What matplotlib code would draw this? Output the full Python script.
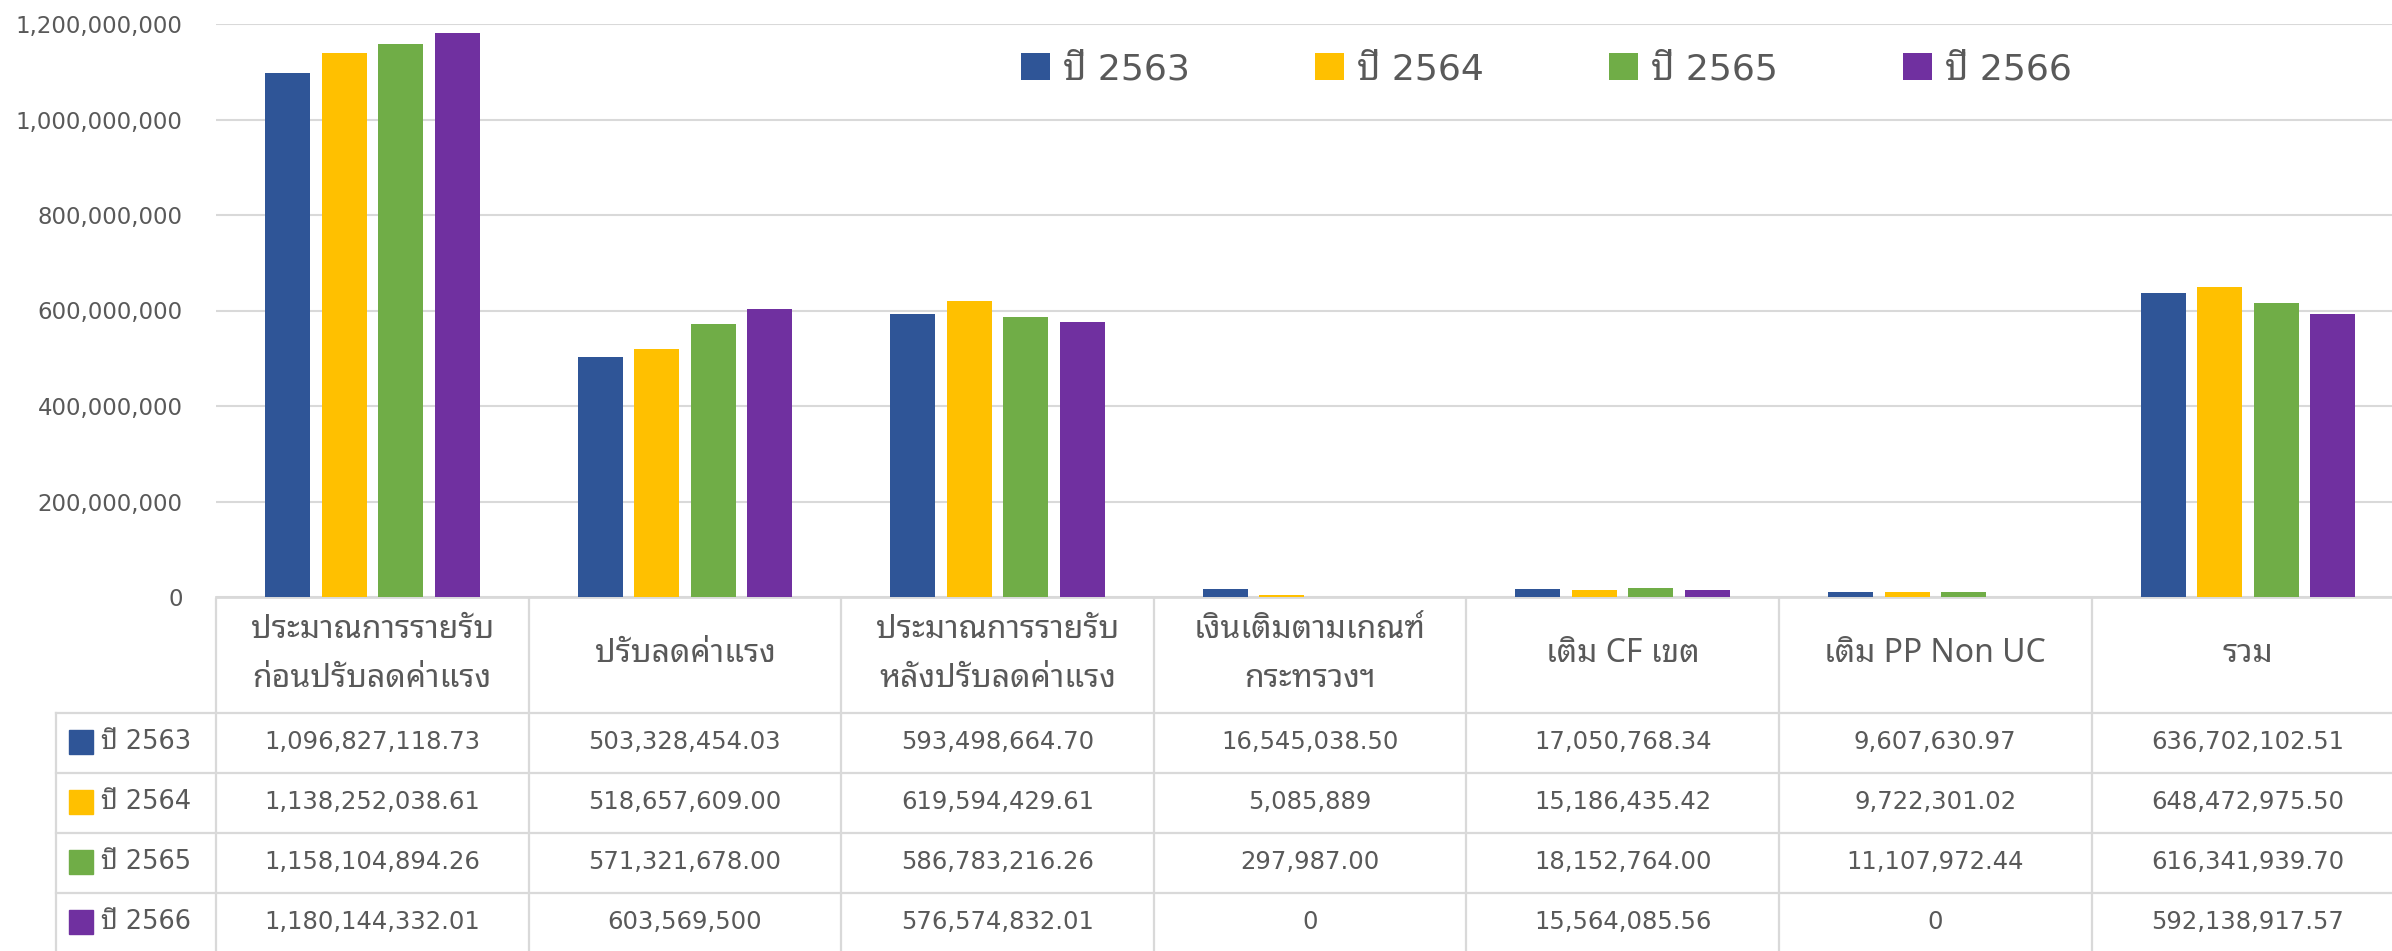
import matplotlib
matplotlib.use("Agg")
import matplotlib.pyplot as plt
from matplotlib.lines import Line2D
from matplotlib.patches import Rectangle
from matplotlib.ticker import FuncFormatter
import numpy as np

# ---------------- data ----------------
categories = [
    "ประมาณการรายรับ\nก่อนปรับลดค่าแรง",
    "ปรับลดค่าแรง",
    "ประมาณการรายรับ\nหลังปรับลดค่าแรง",
    "เงินเติมตามเกณฑ์\nกระทรวงฯ",
    "เติม CF เขต",
    "เติม PP Non UC",
    "รวม",
]
series_names = ["ปี 2563", "ปี 2564", "ปี 2565", "ปี 2566"]
values_2563 = [1096827118.73, 503328454.03, 593498664.70, 16545038.50, 17050768.34, 9607630.97, 636702102.51]
values_2564 = [1138252038.61, 518657609.00, 619594429.61, 5085889, 15186435.42, 9722301.02, 648472975.50]
values_2565 = [1158104894.26, 571321678.00, 586783216.26, 297987.00, 18152764.00, 11107972.44, 616341939.70]
values_2566 = [1180144332.01, 603569500, 576574832.01, 0, 15564085.56, 0, 592138917.57]
labels_2563 = ["1,096,827,118.73", "503,328,454.03", "593,498,664.70", "16,545,038.50", "17,050,768.34", "9,607,630.97", "636,702,102.51"]
labels_2564 = ["1,138,252,038.61", "518,657,609.00", "619,594,429.61", "5,085,889", "15,186,435.42", "9,722,301.02", "648,472,975.50"]
labels_2565 = ["1,158,104,894.26", "571,321,678.00", "586,783,216.26", "297,987.00", "18,152,764.00", "11,107,972.44", "616,341,939.70"]
labels_2566 = ["1,180,144,332.01", "603,569,500", "576,574,832.01", "0", "15,564,085.56", "0", "592,138,917.57"]
colors = ["#2F5597", "#FFC000", "#70AD47", "#7030A0"]

series_values = [values_2563, values_2564, values_2565, values_2566]
series_labels = [labels_2563, labels_2564, labels_2565, labels_2566]

# ---------------- layout ----------------
W, H = 2392, 951
TXT = "#595959"
GRID = "#D9D9D9"
NUMFONT = ["DejaVu Sans", "Noto Sans Thai Looped"]
THAIFONT = ["Noto Sans Thai Looped", "DejaVu Sans"]

def fx(px):
    return px / W

def fy(py):
    return 1 - py / H

fig = plt.figure(figsize=(W / 100, H / 100), dpi=100)
fig.patch.set_facecolor("white")

x_left, col_w = 216, 312.6
n = len(categories)
x_right = x_left + n * col_w
y_top, y_zero = 24, 597
ax = fig.add_axes([fx(x_left), fy(y_zero), fx(x_right) - fx(x_left), fy(y_top) - fy(y_zero)])

x = np.arange(n)
bw, step = 0.144, 0.181
for i, (vals, c, name) in enumerate(zip(series_values, colors, series_names)):
    ax.bar(x + (i - 1.5) * step, vals, width=bw, color=c, label=name, zorder=3)

ax.set_xlim(-0.5, n - 0.5)
ax.set_ylim(0, 1.2e9)
ax.set_yticks(np.arange(0, 1.2e9 + 1, 2e8))
ax.yaxis.set_major_formatter(FuncFormatter(lambda v, p: f"{v:,.0f}"))
ax.tick_params(axis="y", length=0, pad=24, labelsize=16.5, labelcolor=TXT)
for lab in ax.get_yticklabels():
    lab.set_family(NUMFONT)
ax.set_xticks([])
ax.grid(axis="y", color=GRID, linewidth=1.5, zorder=0)
for s in ["top", "right", "left"]:
    ax.spines[s].set_visible(False)
ax.spines["bottom"].set_color(GRID)
ax.spines["bottom"].set_linewidth(2)
ax.set_facecolor("none")

# legend
leg = ax.legend(loc="center left", bbox_to_anchor=(fx(1021), fy(69)), bbox_transform=fig.transFigure,
                ncol=4, frameon=False, handlelength=0.80, handleheight=0.78, handletextpad=0.36,
                columnspacing=3.47, borderpad=0, borderaxespad=0,
                prop={"family": NUMFONT, "size": 26})
for t in leg.get_texts():
    t.set_color(TXT)

# ---------------- data table ----------------
row_top = 713
row_h = 60
rows_y = [row_top + k * row_h for k in range(5)]
rh_left = 56

lw = 1.6
for yy in rows_y[:4]:
    fig.add_artist(Line2D([fx(rh_left), 1.0], [fy(yy), fy(yy)], color=GRID, lw=lw))
fig.add_artist(Line2D([fx(rh_left), fx(rh_left)], [fy(row_top), 0], color=GRID, lw=lw))
for k in range(n + 1):
    xx = x_left + k * col_w
    fig.add_artist(Line2D([fx(xx), fx(xx)], [fy(599), 0], color=GRID, lw=lw))

# column headers
for k, cat in enumerate(categories):
    cx = x_left + (k + 0.5) * col_w
    fig.text(fx(cx), fy((599 + row_top) / 2 - 2), cat, ha="center", va="center", fontsize=23,
             color=TXT, family=THAIFONT, linespacing=1.62)

# rows
for r, (name, c, labs) in enumerate(zip(series_names, colors, series_labels)):
    cy = row_top + (r + 0.5) * row_h - 1
    fig.add_artist(Rectangle((fx(69), fy(cy + 12)), fx(24), 24 / H, color=c, transform=fig.transFigure))
    fig.text(fx(101), fy(cy), name, ha="left", va="center", fontsize=18.5, color=TXT, family=NUMFONT)
    for k, lab in enumerate(labs):
        cx = x_left + (k + 0.5) * col_w
        fig.text(fx(cx), fy(cy), lab, ha="center", va="center", fontsize=17.5, color=TXT, family=NUMFONT)

fig.savefig("out.png", dpi=100, facecolor="white")
